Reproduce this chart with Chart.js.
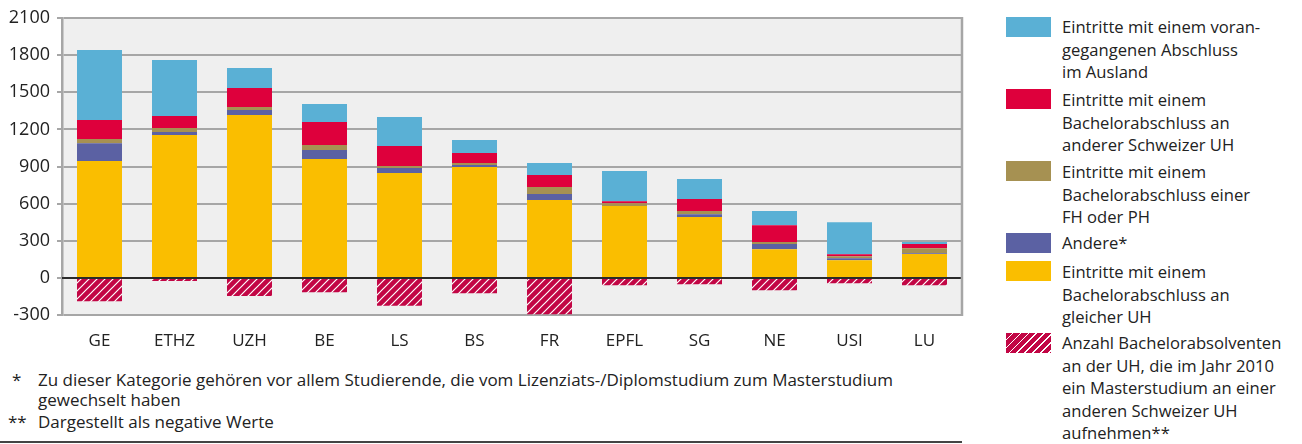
<!DOCTYPE html>
<html>
<head>
<meta charset="utf-8">
<script src="https://cdn.jsdelivr.net/npm/chart.js@4"></script>
<style>
  body { margin: 0; background: #fff; font-family: "Open Sans", sans-serif; color: #222; }
  #wrap { position: relative; width: 1302px; height: 444px; overflow: hidden; }
  #chartBox { position: absolute; left: 0; top: 0; }
  .sw { position: absolute; left: 1006px; width: 45px; height: 20px; }
  .lt { position: absolute; left: 1062px; font-size: 16.6px; line-height: 22.5px; white-space: nowrap; }
  .fn { position: absolute; font-size: 17px; line-height: 20px; white-space: nowrap; }
  #rule { position: absolute; left: 0; top: 441px; width: 962px; height: 2px; background: #444; }
</style>
</head>
<body>
<div id="wrap">
  <div id="chartBox"><canvas id="masterChart" width="975" height="350"></canvas></div>

  <div class="sw" style="top:17px;background:#5ab0d5"></div>
  <div class="lt" style="top:16px">Eintritte mit einem voran-<br>gegangenen Abschluss<br>im Ausland</div>
  <div class="sw" style="top:89px;background:#de003c"></div>
  <div class="lt" style="top:89px">Eintritte mit einem<br>Bachelorabschluss an<br>anderer Schweizer UH</div>
  <div class="sw" style="top:161px;background:#a69152"></div>
  <div class="lt" style="top:161px">Eintritte mit einem<br>Bachelorabschluss einer<br>FH oder PH</div>
  <div class="sw" style="top:233px;background:#5b61a3"></div>
  <div class="lt" style="top:232px">Andere*</div>
  <div class="sw" style="top:261px;background:#fabe00"></div>
  <div class="lt" style="top:261px">Eintritte mit einem<br>Bachelorabschluss an<br>gleicher UH</div>
  <div class="sw" style="top:333px;background:repeating-linear-gradient(135deg,#c20645 0 4.4px,#fff 4.4px 5.6px)"></div>
  <div class="lt" style="top:332px">Anzahl Bachelorabsolventen<br>an der UH, die im Jahr 2010<br>ein Masterstudium an einer<br>anderen Schweizer UH<br>aufnehmen**</div>

  <div class="fn" style="left:12px;top:370px">*</div>
  <div class="fn" style="left:38px;top:370px">Zu dieser Kategorie gehören vor allem Studierende, die vom Lizenziats-/Diplomstudium zum Masterstudium<br>gewechselt haben</div>
  <div class="fn" style="left:8px;top:412px">**</div>
  <div class="fn" style="left:38px;top:412px">Dargestellt als negative Werte</div>
  <div id="rule"></div>
</div>

<script>
// data
const categories = ['GE', 'ETHZ', 'UZH', 'BE', 'LS', 'BS', 'FR', 'EPFL', 'SG', 'NE', 'USI', 'LU'];

const gleicheUH = [944, 1154, 1316, 960, 847, 895, 629, 580, 491, 232, 143, 192];
const andere    = [143, 25, 41, 73, 41, 17, 48, 0, 24, 41, 16, 8];
const fhPh      = [35, 32, 24, 41, 16, 16, 57, 24, 25, 16, 16, 40];
const andereUH  = [154, 97, 154, 186, 161, 81, 97, 16, 97, 137, 16, 33];
const ausland   = [566, 453, 161, 145, 235, 105, 97, 243, 161, 114, 259, 16];
const abgaenge  = [-189, -25, -146, -116, -226, -124, -294, -59, -51, -100, -43, -59];

const yTicks = [-300, 0, 300, 600, 900, 1200, 1500, 1800, 2100];


// hatched fill for the negative bars
function makeHatch() {
    const c = document.createElement('canvas');
    c.width = 8;
    c.height = 8;
    const g = c.getContext('2d');
    g.fillStyle = '#c20645';
    g.fillRect(0, 0, 8, 8);
    g.strokeStyle = '#ffffff';
    g.lineWidth = 1.2;
    g.beginPath();
    g.moveTo(0, 8); g.lineTo(8, 0);
    g.moveTo(-1, 1); g.lineTo(1, -1);
    g.moveTo(7, 9); g.lineTo(9, 7);
    g.stroke();
    return g.createPattern(c, 'repeat');
}

const gridGray = '#a6a6a6';

const frame = {
    id: 'frame',
    beforeDraw(chart) {
        const a = chart.chartArea;
        const ctx = chart.ctx;
        ctx.save();
        ctx.fillStyle = '#efefef';
        ctx.fillRect(a.left, a.top, a.right - a.left, a.bottom - a.top);
        ctx.restore();
    },
    afterDatasetsDraw(chart) {
        const a = chart.chartArea;
        const ctx = chart.ctx;
        const y0 = chart.scales.y.getPixelForValue(0);
        ctx.save();
        ctx.strokeStyle = '#000';
        ctx.lineWidth = 1.5;
        ctx.beginPath();
        ctx.moveTo(a.left, y0);
        ctx.lineTo(a.right, y0);
        ctx.stroke();
        ctx.strokeStyle = gridGray;
        ctx.lineWidth = 2.5;
        ctx.beginPath();
        ctx.moveTo(a.right, a.top - 1);
        ctx.lineTo(a.right, a.bottom + 1);
        ctx.stroke();
        ctx.restore();
    }
};

const masterChart = document.getElementById('masterChart');

new Chart(masterChart, {

    type: 'bar',

    data: {
        labels: categories,
        datasets: [
            { label: 'gleiche UH', data: gleicheUH, backgroundColor: '#fabe00' },
            { label: 'Andere', data: andere, backgroundColor: '#5b61a3' },
            { label: 'FH oder PH', data: fhPh, backgroundColor: '#a69152' },
            { label: 'andere Schweizer UH', data: andereUH, backgroundColor: '#de003c' },
            { label: 'Ausland', data: ausland, backgroundColor: '#5ab0d5' },
            { label: 'Abgänge', data: abgaenge, backgroundColor: makeHatch() }
        ]
    },

    options: {
        responsive: false,
        animation: false,
        categoryPercentage: 0.6,
        barPercentage: 1,
        layout: { padding: { top: 18, right: 13, left: 0, bottom: 0 } },
        plugins: {
            legend: { display: false },
            tooltip: { enabled: false }
        },
        scales: {
            x: {
                stacked: true,
                grid: { display: false },
                border: { display: false },
                ticks: { color: '#222', font: { family: 'Open Sans', size: 17 }, padding: 8 },
                afterFit(s) { s.height = 35; }
            },
            y: {
                stacked: true,
                min: -300,
                max: 2100,
                afterBuildTicks(s) { s.ticks = yTicks.map(v => ({ value: v })); },
                grid: { color: gridGray, lineWidth: 2, tickLength: 5 },
                border: { color: gridGray, width: 2.5 },
                ticks: {
                    color: '#222',
                    font: { family: 'Open Sans', size: 18 },
                    padding: 7,
                    callback: v => String(v)
                },
                afterFit(s) { s.width = 62; }
            }
        }
    },

    plugins: [frame]

});
</script>
</body>
</html>
